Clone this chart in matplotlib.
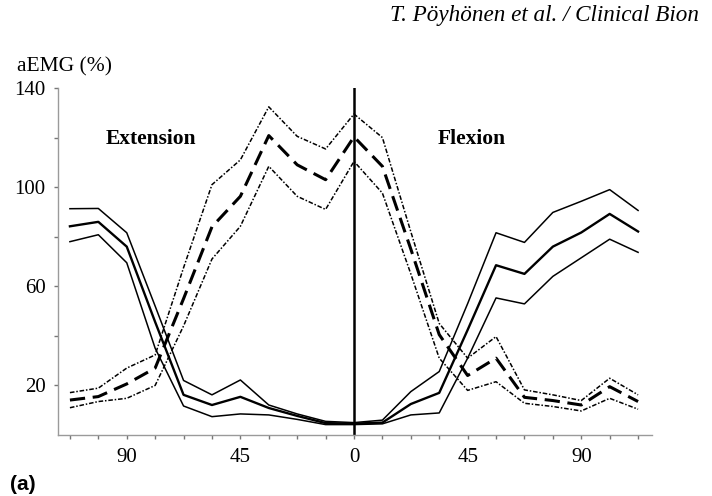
import numpy as np
import matplotlib
matplotlib.use("Agg")
import matplotlib.pyplot as plt

# Posiciones de los puntos (una por marca del eje x)
posiciones = np.arange(-10, 11)
etiquetas_x = {-8: '90', -4: '45', 0: '0', 4: '45', 8: '90'}

# Grupo de linea continua (media +/- DE)
solido_sup = [91.3, 91.4, 81.6, 52, 22, 16.2, 22.2, 12.1, 8.5, 5.5, 5,
              6, 17.5, 25.6, 53, 81.6, 77.7, 89.8, 94.3, 99, 90.6]
solido_media = [84.2, 86, 76, 45.6, 16.2, 12.1, 15.4, 10.9, 7.7, 4.8, 4.6,
                5, 12.5, 17, 42.4, 68.5, 65, 76, 81.7, 89.2, 82.1]
solido_inf = [78, 80.8, 69.5, 35, 11.7, 7.4, 8.5, 8.1, 6.3, 4.2, 4.2,
              4.5, 8.1, 8.9, 31, 55.3, 52.9, 64, 71.5, 79, 73.7]

# Grupo de linea discontinua (media +/- DE)
disc_sup = [17.1, 18.9, 27, 32.3, 67.5, 101, 111, 132.4, 120.5, 115.4, 129.5,
            120, 82, 45, 31, 39.7, 18.2, 16.2, 13.9, 22.9, 16.2]
disc_media = [14.1, 15.5, 20.6, 27, 55, 84, 96.3, 120.8, 109, 103, 120.3,
              108.4, 75, 40.5, 24, 31, 15.2, 13.9, 12.1, 19.5, 13.5]
disc_inf = [11, 13.5, 14.8, 20, 44, 71, 84.2, 108.4, 96.3, 91, 110.4,
            97.6, 65, 31, 18, 21.5, 12.8, 11.5, 9.7, 14.8, 10.4]

serif = 'Liberation Serif'

fig = plt.figure(figsize=(7.12, 4.96), dpi=100)
ax = fig.add_axes([58 / 712, 1 - 435 / 496, 594 / 712, 347 / 496])

ax.plot(posiciones, solido_sup, color='black', lw=1.1)
ax.plot(posiciones, solido_media, color='black', lw=1.7)
ax.plot(posiciones, solido_inf, color='black', lw=1.1)

ax.plot(posiciones, disc_sup, color='black', lw=1.1, dashes=(3, 1.2, 1, 1.2))
ax.plot(posiciones, disc_media, color='black', lw=2.2, dashes=(5, 2.5))
ax.plot(posiciones, disc_inf, color='black', lw=1.1, dashes=(3, 1.2, 1, 1.2))

ax.axvline(0, color='black', lw=1.8)

ax.set_xlim(-10.42, 10.49)
ax.set_ylim(0, 140)

ax.spines['top'].set_visible(False)
ax.spines['right'].set_visible(False)
for lado in ['left', 'bottom']:
    ax.spines[lado].set_color('#9a9a9a')
    ax.spines[lado].set_linewidth(1.0)

ax.set_xticks(posiciones)
ax.set_xticklabels([etiquetas_x.get(p, '') for p in posiciones])
ax.set_yticks([20, 40, 60, 80, 100, 120, 140])
ax.set_yticklabels(['20', '', '60', '', '100', '', '140'])
ax.tick_params(length=3, width=1, color='#777777', pad=6, labelsize=15)
for t in ax.get_xticklabels() + ax.get_yticklabels():
    t.set_fontfamily(serif)

ax.text(-7.13, 119.4, 'Extension', family=serif, fontweight='bold',
        fontsize=15.5, ha='center', va='center')
ax.text(4.15, 119.4, 'Flexion', family=serif, fontweight='bold',
        fontsize=15.5, ha='center', va='center')

fig.text(17 / 712, 1 - 67 / 496, 'aEMG (%)', family=serif, fontsize=15.5,
         ha='left', va='center')
fig.text(390 / 712, 1 - 15 / 496, 'T. Pöyhönen et al. / Clinical Bion',
         family=serif, style='italic', fontsize=16.7, ha='left', va='center')
fig.text(10 / 712, 1 - 485 / 496, '(a)', family='Liberation Sans',
         fontweight='bold', fontsize=15, ha='left', va='center')

fig.savefig('out.png', dpi=100)
